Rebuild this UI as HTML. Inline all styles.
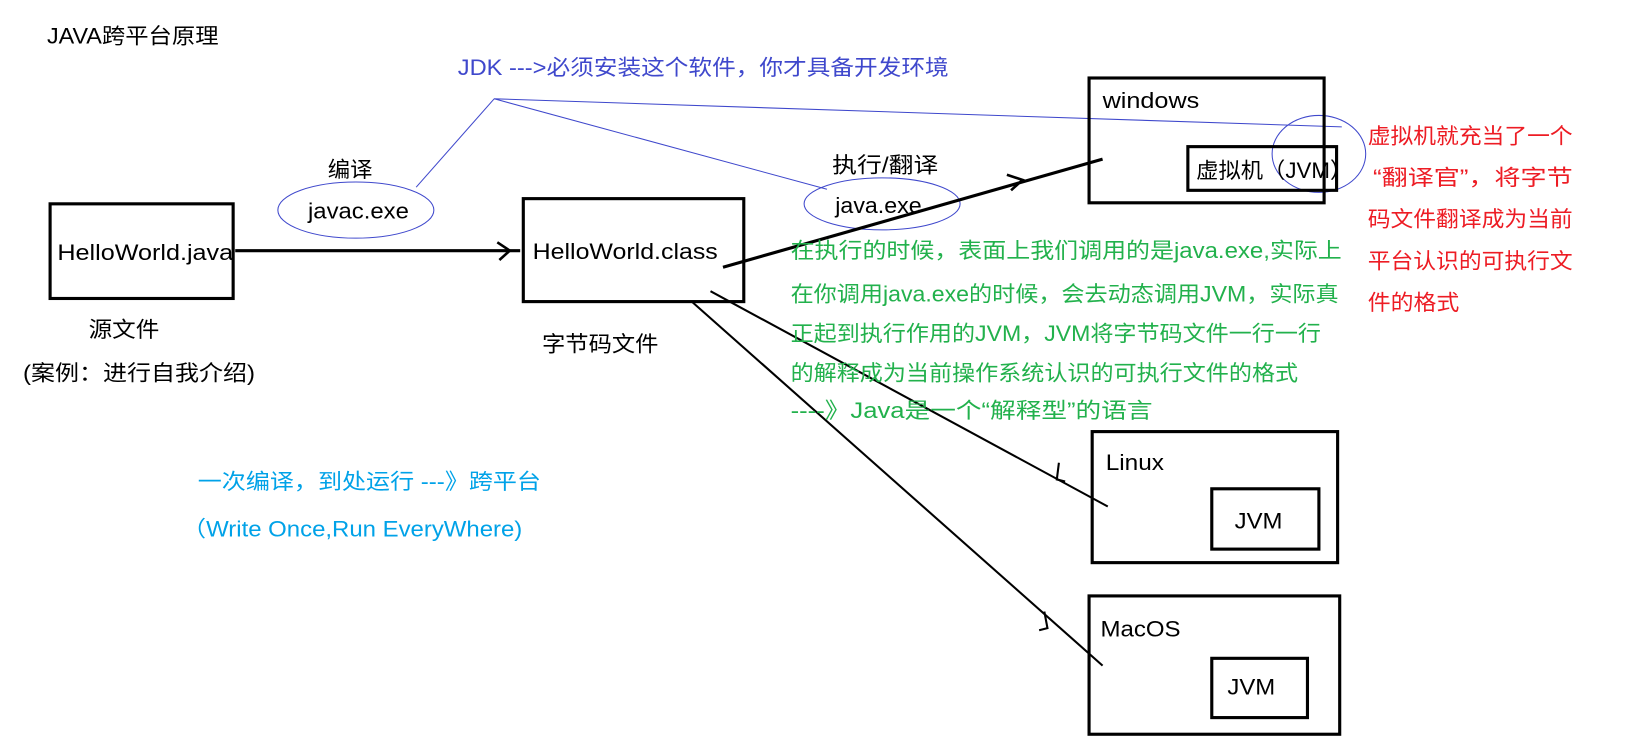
<!DOCTYPE html>
<html><head><meta charset="utf-8"><style>
html,body{margin:0;padding:0;background:#fff;}
svg{display:block;}
text{font-family:"Liberation Sans","Noto Sans CJK SC",sans-serif;font-size:21px;}
</style></head><body>
<svg width="1629" height="754" viewBox="0 0 1566 725" xmlns="http://www.w3.org/2000/svg">
<g fill="none" stroke="#3f48cc" stroke-width="1">
<line x1="475" y1="95" x2="1290" y2="122"/>
<line x1="475" y1="95" x2="400" y2="180"/>
<line x1="475" y1="95" x2="795" y2="182"/>
<ellipse cx="342" cy="202" rx="75" ry="27"/>
<ellipse cx="848" cy="196" rx="75" ry="25"/>
<ellipse cx="1268" cy="148" rx="45" ry="37"/>
</g>
<g fill="none" stroke="#000">
<rect x="48" y="196" width="176" height="91" stroke-width="3"/>
<rect x="503" y="191" width="212" height="99" stroke-width="3"/>
<rect x="1047" y="75" width="226" height="120" stroke-width="3"/>
<rect x="1142" y="141" width="143" height="42" stroke-width="3"/>
<rect x="1050" y="415" width="236" height="126" stroke-width="3"/>
<rect x="1165" y="470" width="103" height="58" stroke-width="3"/>
<rect x="1047" y="573" width="241" height="133" stroke-width="3"/>
<rect x="1165" y="633" width="92" height="57" stroke-width="3"/>
<line x1="226" y1="241" x2="500" y2="241" stroke-width="3"/>
<polyline points="478,233 490,241 480,250" stroke-width="2.5"/>
<line x1="695" y1="257" x2="1060" y2="153" stroke-width="3"/>
<polyline points="968,168 983,173 972,183" stroke-width="2.5"/>
<line x1="683" y1="280" x2="1065" y2="487" stroke-width="2"/>
<polyline points="1018,445 1016,461 1024,463" stroke-width="2"/>
<line x1="665" y1="290" x2="1060" y2="640" stroke-width="2"/>
<polyline points="1004,588 1007,604 999,606" stroke-width="2"/>
</g>
<text x="45" y="42" textLength="165" lengthAdjust="spacingAndGlyphs">JAVA跨平台原理</text>
<text x="440" y="72" fill="#3f48cc" textLength="472" lengthAdjust="spacingAndGlyphs">JDK  ---&gt;必须安装这个软件，你才具备开发环境</text>
<text x="315" y="170" textLength="43" lengthAdjust="spacingAndGlyphs">编译</text>
<text x="296" y="210" textLength="97" lengthAdjust="spacingAndGlyphs">javac.exe</text>
<text x="55" y="250" textLength="169" lengthAdjust="spacingAndGlyphs">HelloWorld.java</text>
<text x="512" y="249" textLength="178" lengthAdjust="spacingAndGlyphs">HelloWorld.class</text>
<text x="85" y="324" textLength="68" lengthAdjust="spacingAndGlyphs">源文件</text>
<text x="22" y="366" textLength="223" lengthAdjust="spacingAndGlyphs">(案例：进行自我介绍)</text>
<text x="521" y="338" textLength="112" lengthAdjust="spacingAndGlyphs">字节码文件</text>
<text x="800" y="166" textLength="102" lengthAdjust="spacingAndGlyphs">执行/翻译</text>
<text x="803" y="205" textLength="83" lengthAdjust="spacingAndGlyphs">java.exe</text>
<text x="1060" y="104" textLength="93" lengthAdjust="spacingAndGlyphs">windows</text>
<text x="1150" y="171" textLength="150" lengthAdjust="spacingAndGlyphs">虚拟机（JVM）</text>
<text x="1063" y="452" textLength="56" lengthAdjust="spacingAndGlyphs">Linux</text>
<text x="1187" y="508" textLength="46" lengthAdjust="spacingAndGlyphs">JVM</text>
<text x="1058" y="612" textLength="77" lengthAdjust="spacingAndGlyphs">MacOS</text>
<text x="1180" y="668" textLength="46" lengthAdjust="spacingAndGlyphs">JVM</text>
<g fill="#ed1c24">
<text x="1315" y="138" textLength="197" lengthAdjust="spacingAndGlyphs">虚拟机就充当了一个</text>
<text x="1320" y="178" textLength="192" lengthAdjust="spacingAndGlyphs">“翻译官”，将字节</text>
<text x="1315" y="218" textLength="197" lengthAdjust="spacingAndGlyphs">码文件翻译成为当前</text>
<text x="1315" y="258" textLength="197" lengthAdjust="spacingAndGlyphs">平台认识的可执行文</text>
<text x="1315" y="298" textLength="88" lengthAdjust="spacingAndGlyphs">件的格式</text>
</g>
<g fill="#22b14c">
<text x="760" y="248" textLength="530" lengthAdjust="spacingAndGlyphs">在执行的时候，表面上我们调用的是java.exe,实际上</text>
<text x="760" y="290" textLength="527" lengthAdjust="spacingAndGlyphs">在你调用java.exe的时候，会去动态调用JVM，实际真</text>
<text x="760" y="328" textLength="510" lengthAdjust="spacingAndGlyphs">正起到执行作用的JVM，JVM将字节码文件一行一行</text>
<text x="760" y="366" textLength="488" lengthAdjust="spacingAndGlyphs">的解释成为当前操作系统认识的可执行文件的格式</text>
<text x="760" y="402" textLength="348" lengthAdjust="spacingAndGlyphs">----》Java是一个“解释型”的语言</text>
</g>
<g fill="#00a2e8">
<text x="190" y="470" textLength="330" lengthAdjust="spacingAndGlyphs">一次编译，到处运行  ---》跨平台</text>
<text x="175" y="516" textLength="327" lengthAdjust="spacingAndGlyphs">（Write Once,Run EveryWhere)</text>
</g>
</svg>
</body></html>
